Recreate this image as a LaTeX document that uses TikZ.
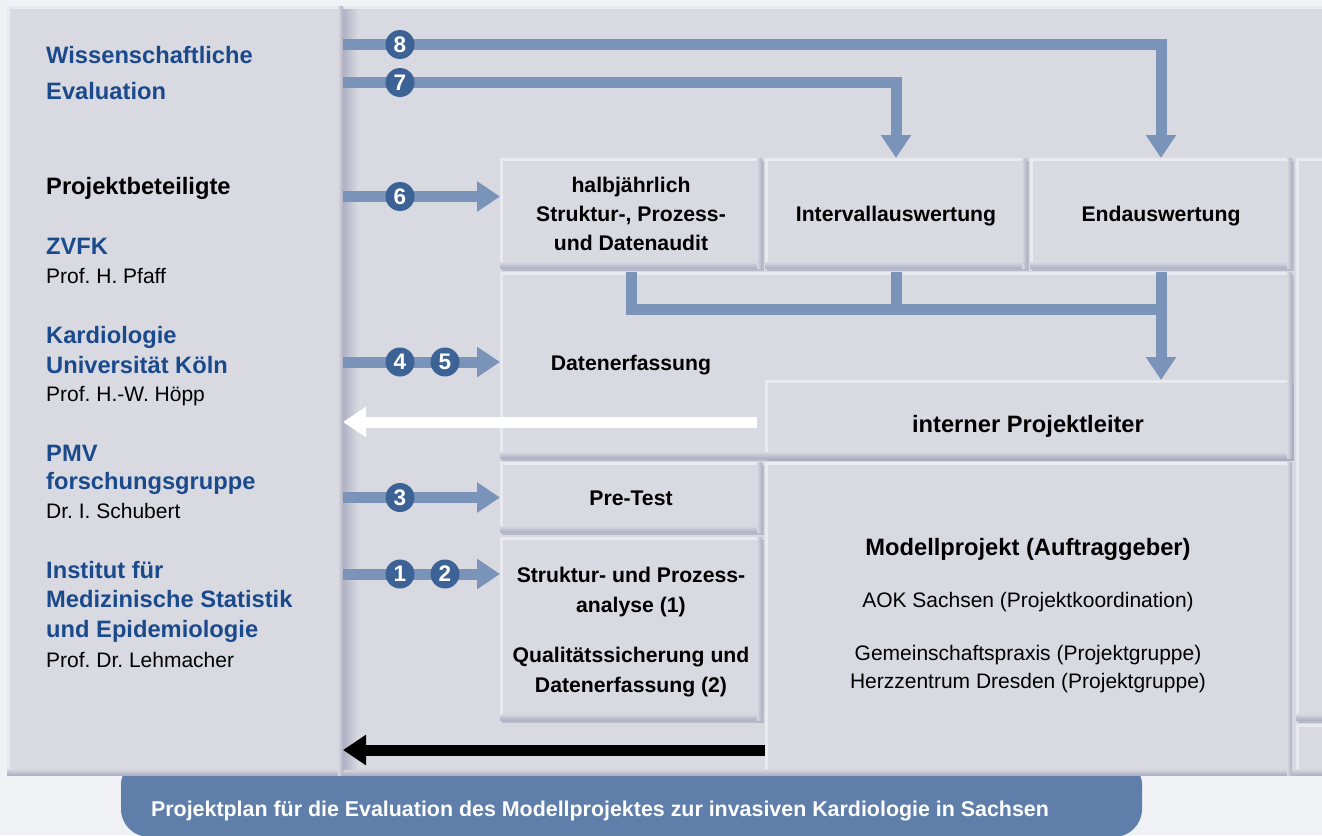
\documentclass[tikz,border=0pt]{standalone}
\usepackage{fontspec}
\setmainfont{Liberation Sans}
\usetikzlibrary{arrows.meta,shadows}
\definecolor{outerbg}{HTML}{F0F1F5}
\definecolor{panel}{HTML}{D8D9E1}
\definecolor{hilite}{HTML}{E9EAEF}
\definecolor{lowlite}{HTML}{AFB1C4}
\definecolor{shadowc}{HTML}{A4A6BA}
\definecolor{linec}{HTML}{7A93B9}
\definecolor{circc}{HTML}{3D6396}
\definecolor{bluetxt}{HTML}{1B4A8C}
\definecolor{tabc}{HTML}{5F7EAA}
\newcommand\hdfont{\fontsize{23.7}{28}\selectfont\bfseries}
\newcommand\rgfont{\fontsize{21}{25}\selectfont}
\newcommand\bxfont{\fontsize{21.2}{25}\selectfont\bfseries}
\newcommand\capfont{\fontsize{21.4}{25}\selectfont\bfseries}
\frenchspacing
\begin{document}
\begin{tikzpicture}[x=1pt,y=-1pt,line join=miter,
  bevel/.style={fill=panel, inner sep=0pt, outer sep=0pt, anchor=north west,
    path picture={
      \fill[hilite] (path picture bounding box.north west) rectangle ([yshift=-3pt]path picture bounding box.north east);
      \fill[hilite] (path picture bounding box.north west) rectangle ([xshift=2.5pt]path picture bounding box.south west);
      \shade[top color=panel, bottom color=lowlite] ([yshift=6pt]path picture bounding box.south west) rectangle (path picture bounding box.south east);
      \shade[left color=panel, right color=lowlite] ([xshift=-5pt]path picture bounding box.north east) rectangle (path picture bounding box.south east);
    }},
  bevelbox/.style={bevel, drop shadow={shadow xshift=1.5pt, shadow yshift=-2.5pt, fill=shadowc, opacity=0.6}},
  txtl/.style={anchor=base west, inner sep=0pt},
  txtc/.style={anchor=base, inner sep=0pt},
  bline/.style={draw=linec, line width=11pt},
  btip/.style={-{Triangle[width=29pt,length=23pt]}},
  wline/.style={draw=white, line width=11pt, -{Triangle[width=29pt,length=23pt]}},
  kline/.style={draw=black, line width=11pt, -{Triangle[width=29pt,length=23pt]}},
  numc/.style={circle, fill=circc, text=white, minimum size=29pt, inner sep=0pt,
    font=\fontsize{22.5}{22}\selectfont\bfseries}
]
\useasboundingbox (0,0) rectangle (1322,835);
\clip (0,0) rectangle (1322,835);
\fill[outerbg] (0,0) rectangle (1322,835);

% caption tab
\node[fill=tabc, rounded corners=28pt, minimum width=1021pt, minimum height=80pt,
  inner sep=0pt, outer sep=0pt, anchor=north west] (tab) at (121,757) {};

% panels
\node[bevel, minimum width=995pt, minimum height=769pt] (rightp) at (343,6) {};
\node[bevel, minimum width=336pt, minimum height=769pt] (leftp) at (7,6) {};
\shade[left color=lowlite, right color=panel] (343,9) rectangle (358,769);

% boxes
\node[bevelbox, minimum width=60pt, minimum height=562pt] (stripa) at (1296,158) {};
\node[bevel, minimum width=60pt, minimum height=51pt] (stripb) at (1296,724) {};
\node[bevelbox, minimum width=262pt, minimum height=110pt] (audit) at (500,158) {};
\node[bevelbox, minimum width=262pt, minimum height=110pt] (intervall) at (765,158) {};
\node[bevelbox, minimum width=262pt, minimum height=110pt] (endw) at (1030,158) {};
\node[bevelbox, minimum width=792pt, minimum height=186pt] (daten) at (500,272) {};
\node[bevelbox, minimum width=527pt, minimum height=78pt] (leiter) at (765,380) {};
\node[bevelbox, minimum width=262pt, minimum height=70pt] (pretest) at (500,462) {};
\node[bevelbox, minimum width=262pt, minimum height=183pt] (struktur) at (500,537) {};
\node[bevel, minimum width=527pt, minimum height=313pt] (modell) at (765,462) {};

% left column texts
\node[txtl, text=bluetxt] (t1) at (46,63) {\hdfont Wissenschaftliche};
\node[txtl, text=bluetxt] (t2) at (46,99) {\hdfont Evaluation};
\node[txtl] (t3) at (46,194) {\hdfont Projektbeteiligte};
\node[txtl, text=bluetxt] (t4) at (46,254) {\hdfont ZVFK};
\node[txtl] (t5) at (46,283) {\rgfont Prof. H. Pfaff};
\node[txtl, text=bluetxt] (t6) at (46,343) {\hdfont Kardiologie};
\node[txtl, text=bluetxt] (t7) at (46,373) {\hdfont Universität Köln};
\node[txtl] (t8) at (46,401) {\rgfont Prof. H.-W. Höpp};
\node[txtl, text=bluetxt] (t9) at (46,461) {\hdfont PMV};
\node[txtl, text=bluetxt] (t10) at (46,489) {\hdfont forschungsgruppe};
\node[txtl] (t11) at (46,518) {\rgfont Dr. I. Schubert};
\node[txtl, text=bluetxt] (t12) at (46,578) {\hdfont Institut für};
\node[txtl, text=bluetxt] (t13) at (46,607) {\hdfont Medizinische Statistik};
\node[txtl, text=bluetxt] (t14) at (46,637) {\hdfont und Epidemiologie};
\node[txtl] (t15) at (46,667) {\rgfont Prof. Dr. Lehmacher};

% box texts
\node[txtc] (a1) at (631,192) {\bxfont halbjährlich};
\node[txtc] (a2) at (631,221) {\bxfont Struktur-, Prozess-};
\node[txtc] (a3) at (631,250) {\bxfont und Datenaudit};
\node[txtc] (b1) at (896,221) {\bxfont Intervallauswertung};
\node[txtc] (c1) at (1161,221) {\bxfont Endauswertung};
\node[txtc] (d1) at (631,370) {\bxfont Datenerfassung};
\node[txtc] (e1) at (1028,432) {\hdfont interner Projektleiter};
\node[txtc] (f1) at (631,505) {\bxfont Pre-Test};
\node[txtc] (g1) at (631,582) {\bxfont Struktur- und Prozess-};
\node[txtc] (g2) at (631,612) {\bxfont analyse (1)};
\node[txtc] (g3) at (631,662) {\bxfont Qualitätssicherung und};
\node[txtc] (g4) at (631,692) {\bxfont Datenerfassung (2)};
\node[txtc] (m1) at (1028,555) {\hdfont Modellprojekt (Auftraggeber)};
\node[txtc] (m2) at (1028,607) {\rgfont AOK Sachsen (Projektkoordination)};
\node[txtc] (m3) at (1028,660) {\rgfont Gemeinschaftspraxis (Projektgruppe)};
\node[txtc] (m4) at (1028,688) {\rgfont Herzzentrum Dresden (Projektgruppe)};
\node[txtc, text=white] (captxt) at (600,816) {\capfont Projektplan für die Evaluation des Modellprojektes zur invasiven Kardiologie in Sachsen};

% reference heights
\coordinate (y8) at (0,44.5);
\coordinate (y7) at (0,82.5);
\coordinate (y6) at (0,196.5);
\coordinate (y45) at (0,362);
\coordinate (y3) at (0,497.5);
\coordinate (y12) at (0,574);
\coordinate (yh) at (0,309);
\coordinate (yw) at (0,422);
\coordinate (yk) at (0,750);

% connectors
\draw[bline, btip] (leftp.east |- y8) -| (endw.north);
\draw[bline, btip] (leftp.east |- y7) -| (intervall.north);
\draw[bline, btip] (leftp.east |- y6) -- (audit.west |- y6);
\draw[bline, btip] (leftp.east |- y45) -- (daten.west |- y45);
\draw[bline, btip] (leftp.east |- y3) -- (pretest.west |- y3);
\draw[bline, btip] (leftp.east |- y12) -- (struktur.west |- y12);
\draw[bline, shorten <=4pt] (audit.south) |- (endw.south |- yh);
\draw[bline, shorten <=4pt] (intervall.south) -- (intervall.south |- yh);
\draw[bline, btip, shorten <=4pt] (endw.south) -- (leiter.north -| endw.south);
\draw[wline, shorten <=8pt] (leiter.west |- yw) -- (leftp.east |- yw);
\draw[kline] (modell.west |- yk) -- (leftp.east |- yk);

% numbers
\node[numc] (n8) at (400,44.5) {8};
\node[numc] (n7) at (400,82.5) {7};
\node[numc] (n6) at (400,196.5) {6};
\node[numc] (n4) at (400,362) {4};
\node[numc] (n5) at (445,362) {5};
\node[numc] (n3) at (400,497.5) {3};
\node[numc] (n1) at (400,574) {1};
\node[numc] (n2) at (445,574) {2};
\end{tikzpicture}
\end{document}
